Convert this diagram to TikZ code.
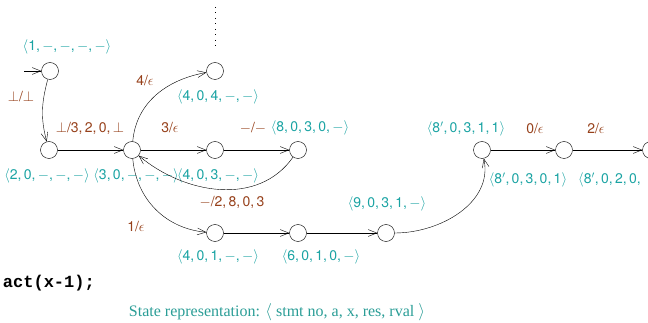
\documentclass[tikz,border=0pt]{standalone}
\usepackage{fontspec}
\setsansfont{TeX Gyre Heros}
\newfontfamily\capfont{Liberation Serif}
\newfontfamily\codefont{Liberation Mono}
\usetikzlibrary{arrows.meta}
\definecolor{StateTeal}{HTML}{1AA3A3}
\definecolor{ArcBrown}{HTML}{96401A}
\definecolor{CapTeal}{HTML}{2A9D96}
\newcommand\sv[1]{$\langle$#1$\rangle$}
\newcommand\mn{$-$}
\tikzset{
  >={Straight Barb[length=3mm,width=2.4mm]},
  state/.style={circle,draw=black,thin,minimum size=17pt,inner sep=0pt},
  statelbl/.style={text=StateTeal,font=\sffamily\fontsize{14}{16}\selectfont,inner sep=0pt},
  arclbl/.style={text=ArcBrown,font=\sffamily\fontsize{14}{16}\selectfont,inner sep=0pt},
  trans/.style={->,thin,draw=black}
}

\begin{document}
\begin{tikzpicture}[x=1pt,y=-1pt]
  \useasboundingbox (0,0) rectangle (648,323);
  % states
  \foreach \name/\x/\y in {s1/50/71,s2/49/150,s3/132/150,s4a/215/71,s4b/215/150,s8/298/150,
                           s4c/215/233,s6/298/233,s9/386/233,s8x/482/150,s8y/564/150,s8z/651/150} {
    \node[state] (\name) at (\x,\y) {};
  }
  \coordinate (start) at (24,71);
  \coordinate (up1) at (215,7);
  \coordinate (up2) at (215,47);
  \draw[dash pattern=on 1pt off 4.5pt] (up1) -- (up2);
  % state vectors
  \node[statelbl] (v1) at (67,47) {\sv{1,\,\mn,\,\mn,\,\mn,\,\mn}};
  \node[statelbl] (v2) at (47,176) {\sv{2,\,0,\,\mn,\,\mn,\,\mn}};
  \node[statelbl] (v3) at (136,176) {\sv{3,\,0,\,\mn,\,\mn,\,\mn}};
  \node[statelbl] (v4a) at (218,97) {\sv{4,\,0,\,4,\,\mn,\,\mn}};
  \node[statelbl] (v4b) at (218,176) {\sv{4,\,0,\,3,\,\mn,\,\mn}};
  \node[statelbl] (v8) at (310,128) {\sv{8,\,0,\,3,\,0,\,\mn}};
  \node[statelbl] (v4c) at (218,257) {\sv{4,\,0,\,1,\,\mn,\,\mn}};
  \node[statelbl] (v6) at (321,257) {\sv{6,\,0,\,1,\,0,\,\mn}};
  \node[statelbl] (v9) at (387,204) {\sv{9,\,0,\,3,\,1,\,\mn}};
  \node[statelbl] (v8x) at (466,129) {\sv{8$'$,\,0,\,3,\,1,\,1}};
  \node[statelbl] (v8y) at (528,180) {\sv{8$'$,\,0,\,3,\,0,\,1}};
  \node[statelbl,anchor=west] (v8z) at (578,180) {$\langle$8$'$,\,0,\,2,\,0,};
  % transitions
  \draw[trans] (start) -- (s1);
  \draw[trans] (s1) to[out=-105,in=105] (s2);
  \draw[trans] (s2) -- (s3);
  \draw[trans] (s3) to[out=85,in=190] (s4a);
  \draw[trans] (s3) -- (s4b);
  \draw[trans] (s4b) -- (s8);
  \draw[trans] (s8) to[out=-125,in=-40] (s3);
  \draw[trans] (s3) to[out=-85,in=175] (s4c);
  \draw[trans] (s4c) -- (s6);
  \draw[trans] (s6) -- (s9);
  \draw[trans] (s9) to[out=0,in=-78] (s8x);
  \draw[trans] (s8x) -- (s8y);
  \draw[trans] (s8y) -- (s8z);
  % arc labels
  \node[arclbl] (a12) at (21,97) {$\bot$/$\bot$};
  \node[arclbl] (a23) at (90,128) {$\bot$/3,\,2,\,0,\,$\bot$};
  \node[arclbl] (a34a) at (145,81) {4/$\epsilon$};
  \node[arclbl] (a34b) at (170,128) {3/$\epsilon$};
  \node[arclbl] (a48) at (253,128) {\mn/\mn};
  \node[arclbl] (a83) at (232,202) {\mn/2,\,8,\,0,\,3};
  \node[arclbl] (a34c) at (136,227) {1/$\epsilon$};
  \node[arclbl] (a8xy) at (535,129) {0/$\epsilon$};
  \node[arclbl] (a8yz) at (596,129) {2/$\epsilon$};
  % code and caption
  \node[anchor=east,inner sep=0pt,font=\codefont\bfseries\fontsize{17}{20}\selectfont] (code) at (95,283) {act(x-1);};
  \node[text=CapTeal,inner sep=0pt,font=\capfont\fontsize{16}{19}\selectfont] (cap) at (277,312)
    {State representation: $\langle$ stmt no, a, x, res, rval $\rangle$};
\end{tikzpicture}
\end{document}
